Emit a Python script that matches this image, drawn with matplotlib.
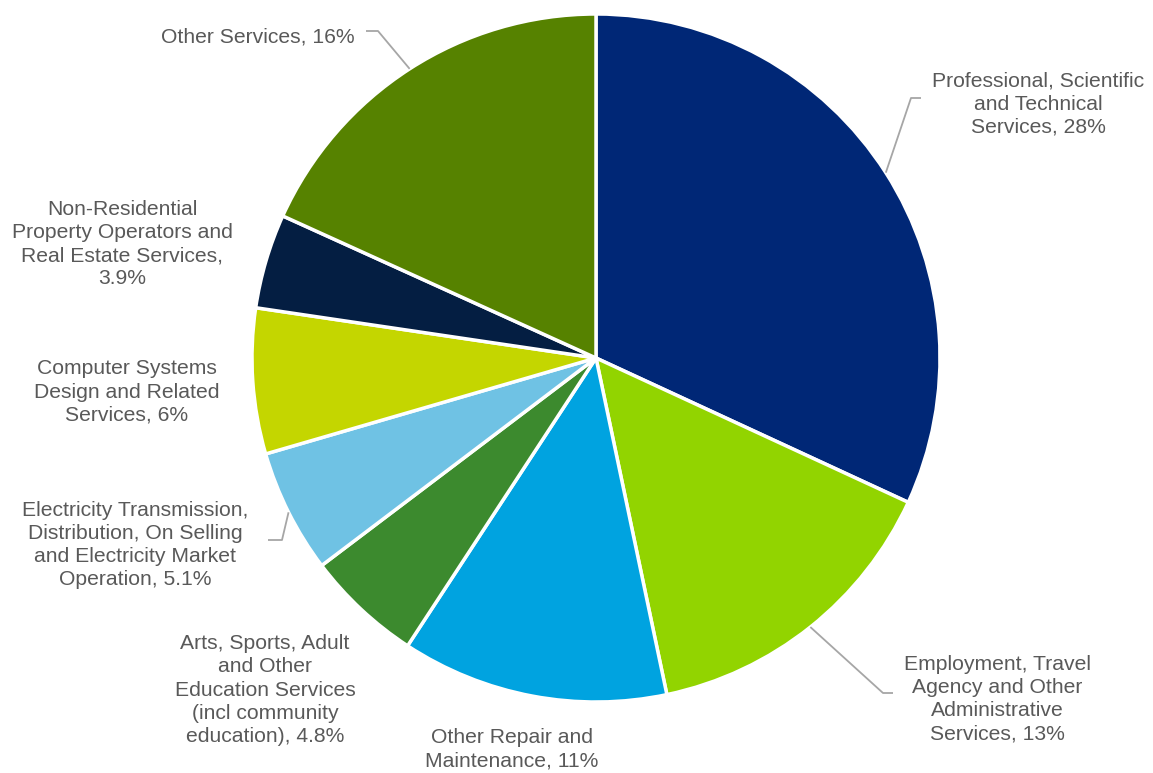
import numpy as np
import matplotlib.pyplot as plt

plt.rcParams['font.family'] = ['Liberation Sans', 'DejaVu Sans']

# industry share of spending (%)
labels = [
    "Professional, Scientific\nand Technical\nServices",
    "Employment, Travel\nAgency and Other\nAdministrative\nServices",
    "Other Repair and\nMaintenance",
    "Arts, Sports, Adult\nand Other\nEducation Services\n(incl community\neducation)",
    "Electricity Transmission,\nDistribution, On Selling\nand Electricity Market\nOperation",
    "Computer Systems\nDesign and Related\nServices",
    "Non-Residential\nProperty Operators and\nReal Estate Services,\n",
    "Other Services",
]
values = [28, 13, 11, 4.8, 5.1, 6, 3.9, 16]
value_text = ["28%", "13%", "11%", "4.8%", "5.1%", "6%", "3.9%", "16%"]
colors = ["#002776", "#92D400", "#00A3E0", "#3C8A2E",
          "#6FC2E4", "#C4D600", "#041E42", "#568200"]

W, H = 1153, 773
cx, cy, R = 596, H - 358, 344

# label placement: text centre, horizontal alignment, elbow and end of leader
label_pos = [
    ((1038, H - 104), "center", (911, H - 98), (921, H - 98)),
    ((997, H - 699), "center", (883, H - 693), (893, H - 693)),
    ((512, H - 749), "center", None, None),
    ((265, H - 690), "center", None, None),
    ((135, H - 545), "center", (282, H - 540), (268, H - 540)),
    ((127, H - 392), "center", None, None),
    ((122, H - 244), "center", None, None),
    ((355, H - 37), "right", (378, H - 31), (366, H - 31)),
]

fig = plt.figure(figsize=(W / 100, H / 100), dpi=100)
ax = fig.add_axes([0, 0, 1, 1])
ax.axis("off")

wedges, _ = ax.pie(values, colors=colors, startangle=90, counterclock=False,
                   center=(cx, cy), radius=R,
                   wedgeprops=dict(edgecolor="white", linewidth=2.5))
ax.set_xlim(0, W)
ax.set_ylim(0, H)
ax.set_aspect("equal")

for w, lab, val, (xy, ha, elbow, end) in zip(wedges, labels, value_text, label_pos):
    if lab.endswith("\n"):
        txt = lab + val
    else:
        txt = lab + ", " + val
    ax.text(xy[0], xy[1], txt, ha=ha, va="center", multialignment="center",
            fontsize=15.2, color="#595959", linespacing=1.28)
    if elbow is not None:
        mid = np.deg2rad((w.theta1 + w.theta2) / 2)
        start = (cx + R * np.cos(mid), cy + R * np.sin(mid))
        ax.plot([start[0], elbow[0], end[0]], [start[1], elbow[1], end[1]],
                color="#A6A6A6", linewidth=1.3, solid_capstyle="butt")

fig.savefig("out.png", dpi=100)
